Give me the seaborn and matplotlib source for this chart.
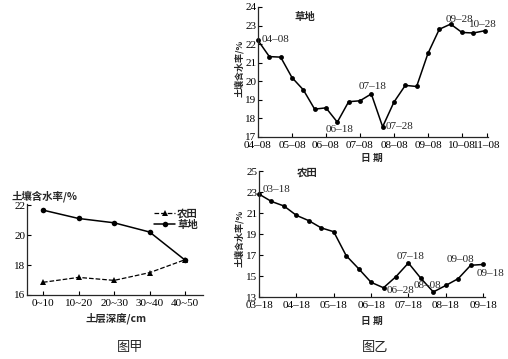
import matplotlib
matplotlib.use('Agg')
import matplotlib.pyplot as plt
import seaborn as sns
import pandas as pd

# ---------------- data ----------------
depth_labels = ['0~10', '10~20', '20~30', '30~40', '40~50']
farmland_depth = [16.85, 17.18, 16.98, 17.5, 18.37]
grass_depth = [21.69, 21.13, 20.84, 20.22, 18.33]

grass_dates = ['04-08', '04-18', '04-28', '05-08', '05-18', '05-28', '06-08',
               '06-18', '06-28', '07-08', '07-18', '07-28', '08-08', '08-18',
               '08-28', '09-08', '09-18', '09-28', '10-08', '10-18', '10-28']
grass_values = [22.2, 21.33, 21.3, 20.2, 19.54, 18.5, 18.57, 17.8, 18.9, 18.95,
                19.32, 17.55, 18.88, 19.78, 19.72, 21.5, 22.8, 23.08, 22.63,
                22.6, 22.72]
grass_ticks = ['04–08', '05–08', '06–08', '07–08', '08–08', '09–08', '10–08', '11–08']
grass_marked = {'04-08': '04–08', '06-18': '06–18', '07-18': '07–18',
                '07-28': '07–28', '09-28': '09–28', '10-28': '10–28'}

farm_dates = ['03-18', '03-28', '04-08', '04-18', '04-28', '05-08', '05-18',
              '05-28', '06-08', '06-18', '06-28', '07-08', '07-18', '07-28',
              '08-08', '08-18', '08-28', '09-08', '09-18']
farm_values = [22.8, 22.1, 21.67, 20.78, 20.27, 19.58, 19.22, 16.94, 15.7, 14.4,
               13.88, 14.94, 16.24, 14.78, 13.48, 14.1, 14.75, 16.02, 16.1]
farm_ticks = ['03–18', '04–18', '05–18', '06–18', '07–18', '08–18', '09–18']
farm_marked = {'03-18': '03–18', '06-28': '06–28', '07-18': '07–18',
               '08-08': '08–08', '09-08': '09–08', '09-18': '09–18'}

# ---------------- style ----------------
sns.set_style('ticks')
plt.rcParams['font.family'] = ['Liberation Serif', 'DejaVu Serif']
plt.rcParams['axes.linewidth'] = 0.9
CJK = ['Noto Sans CJK SC', 'DejaVu Sans']

W, H = 508, 359
fig = plt.figure(figsize=(W / 100, H / 100), dpi=100)


def box(x0, y_top, x1, y_bot):
    return [x0 / W, 1 - y_bot / H, (x1 - x0) / W, (y_bot - y_top) / H]


def ftext(x, y, s, **kw):
    fig.text(x / W, 1 - y / H, s, **kw)


def style_axis(ax, fs):
    sns.despine(ax=ax)
    ax.tick_params(direction='in', length=3, width=0.8, pad=1.2,
                   labelsize=fs, colors='black')
    ax.tick_params(axis='x', pad=3.0)
    for lab in ax.get_xticklabels() + ax.get_yticklabels():
        lab.set_fontfamily(['Liberation Serif'])
    for l in ax.lines:
        l.set_clip_on(False)


# ---------------- 图甲 ----------------
ax1 = fig.add_axes(box(27, 204, 203, 295))
df_depth = pd.DataFrame({'pos': range(len(depth_labels)),
                         'farm': farmland_depth, 'grass': grass_depth})
sns.lineplot(data=df_depth, x='pos', y='farm', ax=ax1, color='black',
             linestyle='--', linewidth=0.9, marker='^', markersize=4,
             markeredgewidth=0, label='农田')
sns.lineplot(data=df_depth, x='pos', y='grass', ax=ax1, color='black',
             linestyle='-', linewidth=1.1, marker='o', markersize=4,
             markeredgewidth=0, label='草地')
ax1.set_xlim(-0.45, 4.5)
ax1.set_ylim(16, 22.1)
ax1.set_yticks([16, 18, 20, 22])
ax1.set_xticks(range(len(depth_labels)))
ax1.set_xticklabels(depth_labels)
ax1.set_xlabel('')
ax1.set_ylabel('')
style_axis(ax1, 8)
leg = ax1.legend(loc='upper left', bbox_to_anchor=(0.7, 1.0), frameon=False,
                 handlelength=2.0, handletextpad=0.2, labelspacing=0.15,
                 borderaxespad=0.0, prop={'family': CJK, 'size': 7.5,
                                          'weight': 'bold'})
ftext(12, 196, '土壤含水率/%', family=CJK, fontsize=7.5, weight='bold',
      ha='left', va='center')
ftext(116, 318, '土层深度/cm', family=CJK, fontsize=7.5, weight='bold',
      ha='center', va='center')
ftext(130, 348, '图甲', family=CJK, fontsize=9.5, ha='center', va='center')

# ---------------- 图乙 草地 ----------------
ax2 = fig.add_axes(box(258, 7, 488, 137))
df_g = pd.DataFrame({'pos': range(len(grass_dates)), 'val': grass_values})
sns.lineplot(data=df_g, x='pos', y='val', ax=ax2, color='black',
             linewidth=1.1, marker='o', markersize=3.5, markeredgewidth=0)
g_tick_pos = [i * 3 for i in range(len(grass_ticks) - 1)] + [len(grass_dates) - 0.8]
ax2.set_xticks(g_tick_pos)
ax2.set_xticklabels(grass_ticks)
ax2.set_xlim(0, len(grass_dates) - 0.7)
ax2.set_ylim(17, 24)
ax2.set_yticks(range(17, 25))
ax2.set_xlabel('')
ax2.set_ylabel('')
style_axis(ax2, 8)
g_offsets = {'04-08': (4, 1, 'left'), '06-18': (2, -7, 'center'),
             '07-18': (1, 7, 'center'), '07-28': (3, 0, 'left'),
             '09-28': (9, 5, 'center'), '10-28': (-2, 6, 'center')}
for key, lab in grass_marked.items():
    i = grass_dates.index(key)
    dx, dy, ha = g_offsets[key]
    ax2.annotate(lab, (i, grass_values[i]), xytext=(dx * 0.72, dy * 0.72),
                 textcoords='offset points', ha=ha, va='center', fontsize=8)
ftext(305, 17, '草地', family=CJK, fontsize=7.5, weight='bold',
      ha='center', va='center')
ftext(372, 158, '日 期', family=CJK, fontsize=7, weight='bold',
      ha='center', va='center')
ftext(239, 68, '土壤含水率/%', family=CJK, fontsize=6.5, weight='bold',
      ha='center', va='center', rotation=90)

# ---------------- 图乙 农田 ----------------
ax3 = fig.add_axes(box(259, 171, 485, 297))
df_f = pd.DataFrame({'pos': range(len(farm_dates)), 'val': farm_values})
sns.lineplot(data=df_f, x='pos', y='val', ax=ax3, color='black',
             linewidth=1.1, marker='o', markersize=3.5, markeredgewidth=0)
ax3.set_xticks([i * 3 for i in range(len(farm_ticks))])
ax3.set_xticklabels(farm_ticks)
ax3.set_xlim(0, len(farm_dates) - 0.85)
ax3.set_ylim(13, 25)
ax3.set_yticks(range(13, 26, 2))
ax3.set_xlabel('')
ax3.set_ylabel('')
style_axis(ax3, 8)
f_offsets = {'03-18': (4, 5, 'left'), '06-28': (3, -3, 'left'),
             '07-18': (2, 6, 'center'), '08-08': (-6, 6, 'center'),
             '09-08': (-10, 6, 'center'), '09-18': (7, -9.5, 'center')}
for key, lab in farm_marked.items():
    i = farm_dates.index(key)
    dx, dy, ha = f_offsets[key]
    ax3.annotate(lab, (i, farm_values[i]), xytext=(dx * 0.72, dy * 0.72),
                 textcoords='offset points', ha=ha, va='center', fontsize=8)
ftext(307, 173, '农田', family=CJK, fontsize=7.5, weight='bold',
      ha='center', va='center')
ftext(372, 321, '日 期', family=CJK, fontsize=7, weight='bold',
      ha='center', va='center')
ftext(239, 238, '土壤含水率/%', family=CJK, fontsize=6.5, weight='bold',
      ha='center', va='center', rotation=90)
ftext(375, 348, '图乙', family=CJK, fontsize=9.5, ha='center', va='center')

fig.savefig('out.png', dpi=100, facecolor='white')
